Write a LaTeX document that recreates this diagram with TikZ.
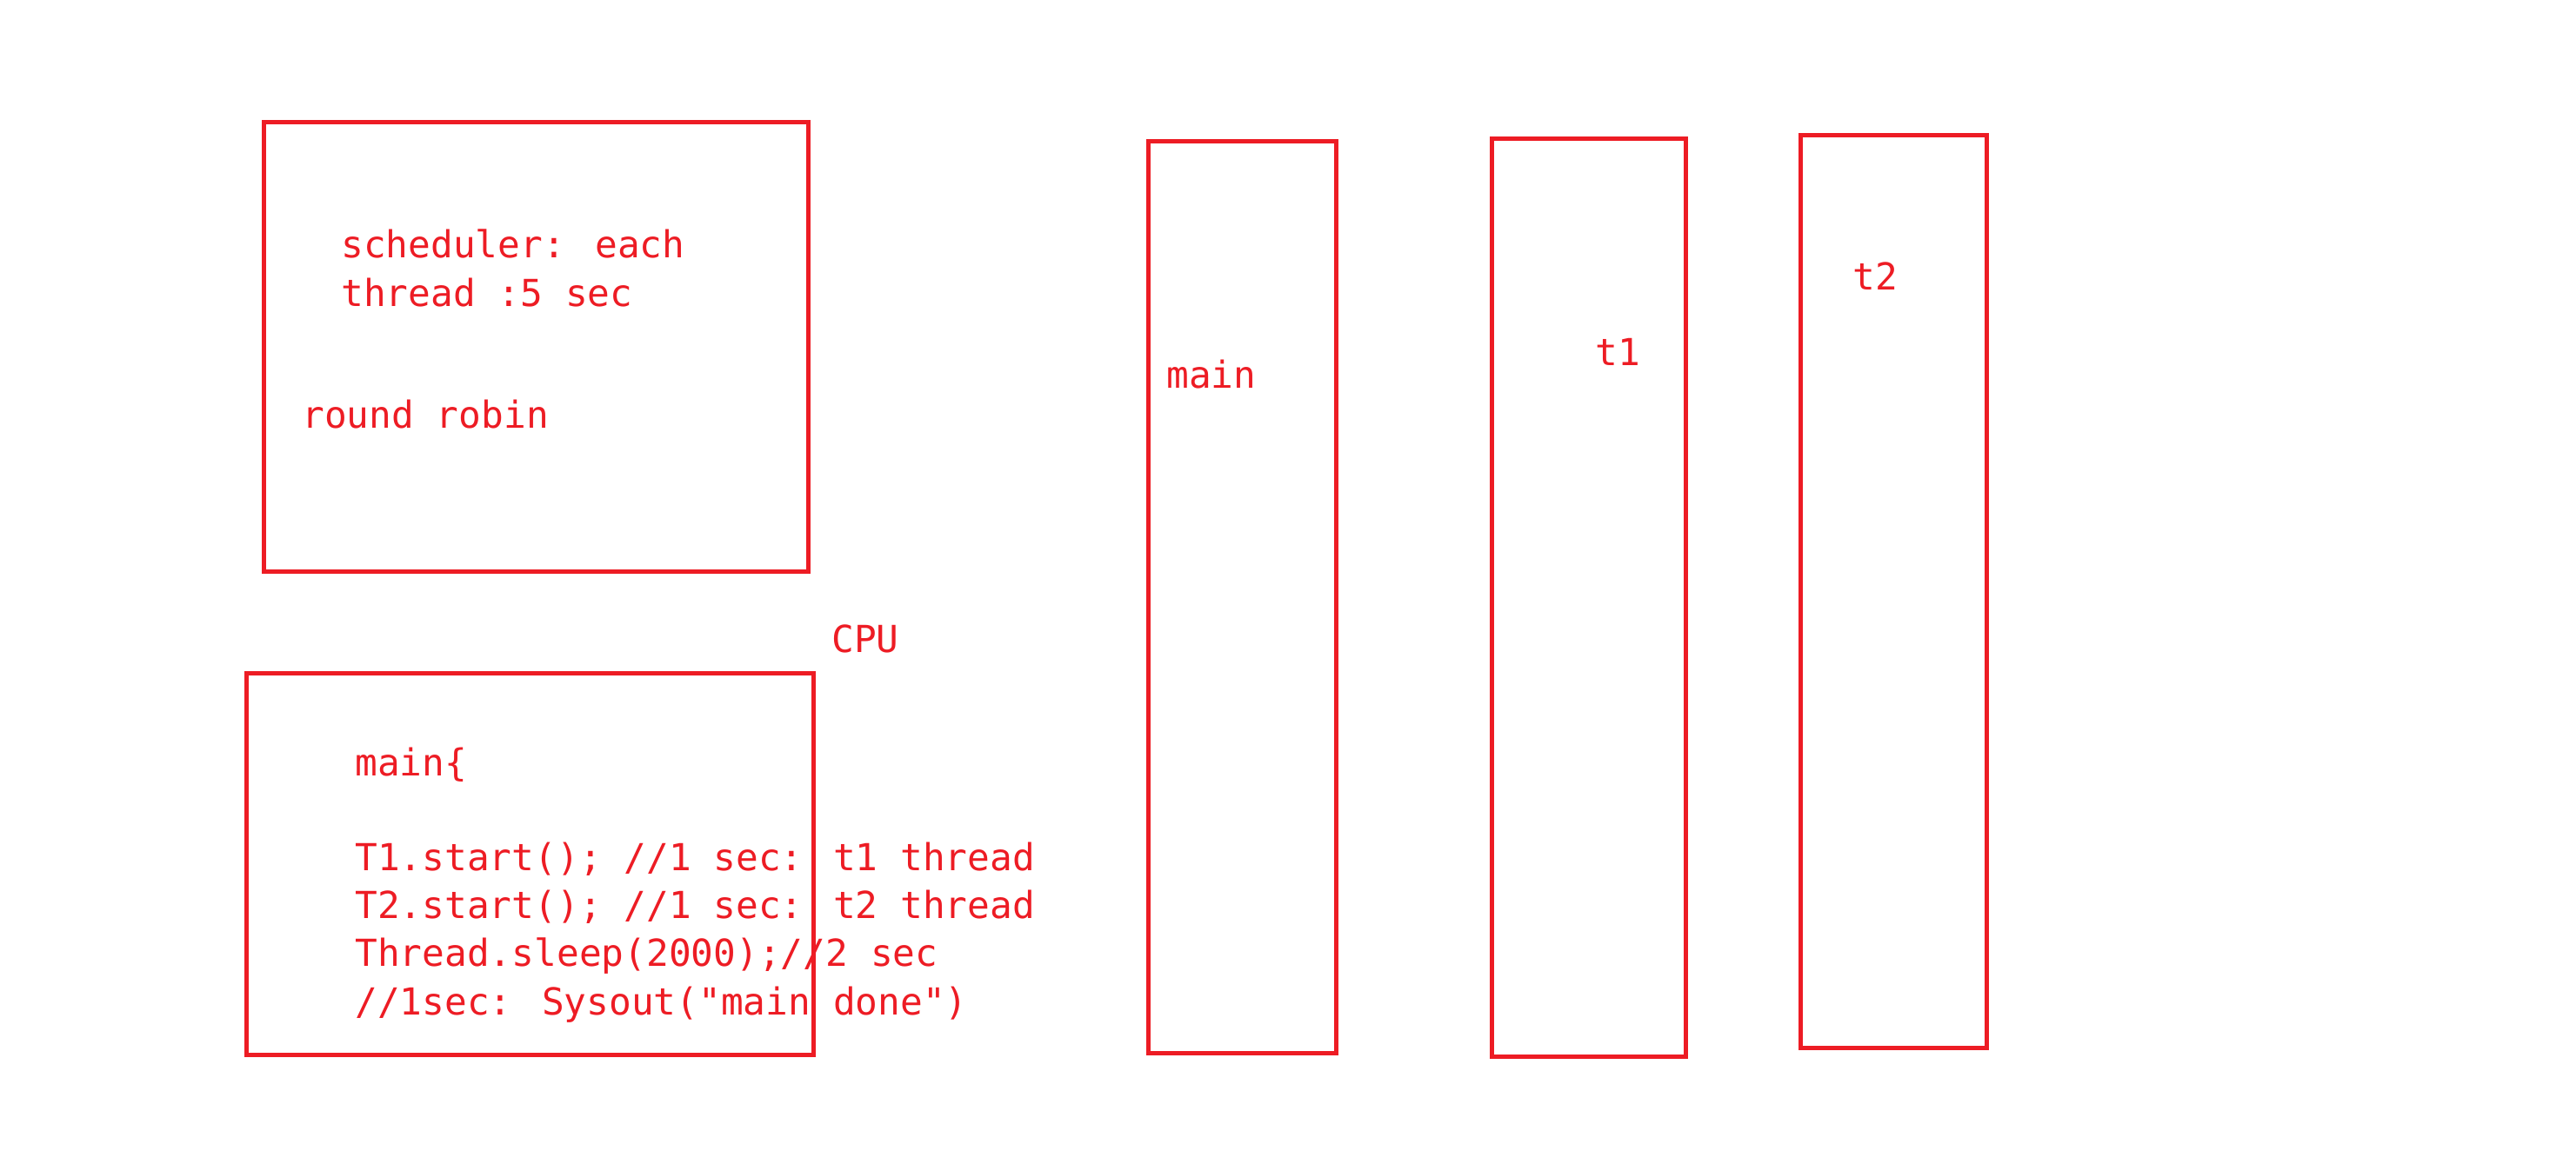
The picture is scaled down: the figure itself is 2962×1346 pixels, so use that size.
\documentclass[tikz,border=0pt]{standalone}
\usepackage{fontspec}
\newfontfamily\codefont{DejaVu Sans Mono}
\definecolor{pred}{RGB}{237,28,36}
\begin{document}
\begin{tikzpicture}[x=0.5pt,y=-0.5pt,
  box/.style={draw=pred, line width=2.5pt, inner sep=0pt, outer sep=0pt, rectangle},
  txt/.style={anchor=base west, inner sep=0pt, text=pred, font=\codefont\fontsize{21.4pt}{27.5pt}\selectfont}]
\useasboundingbox[fill=white] (0,0) rectangle (2962,1346);
% boxes
\node[box, minimum width=313pt, minimum height=258.5pt] (sched) at (616,399) {};
\node[box, minimum width=326pt, minimum height=219.5pt] (code) at (609,993.5) {};
\node[box, minimum width=108pt, minimum height=524.5pt] (mainbox) at (1428,687) {};
\node[box, minimum width=111.5pt, minimum height=528pt] (tonebox) at (1826.5,687) {};
\node[box, minimum width=107pt, minimum height=525pt] (ttwobox) at (2177,680) {};
% scheduler texts
\node[txt] (s1) at (392,296) {scheduler: each};
\node[txt] (s2) at (392,352) {thread :5 sec};
\node[txt] (rr) at (347,492) {round robin};
% CPU
\node[txt] (cpu) at (956,750) {CPU};
% code texts
\node[txt] (c0) at (408,892) {main\{};
\node[txt] (c1) at (408,1001) {T1.start(); //1 sec: t1 thread};
\node[txt] (c2) at (408,1056) {T2.start(); //1 sec: t2 thread};
\node[txt] (c3) at (408,1111) {Thread.sleep(2000);//2 sec};
\node[txt] (c4) at (408,1167) {//1sec: Sysout("main done")};
% thread labels
\node[txt] (lmain) at (1341,446) {main};
\node[txt] (lt1) at (1834,420) {t1};
\node[txt] (lt2) at (2130,333) {t2};
\end{tikzpicture}
\end{document}
